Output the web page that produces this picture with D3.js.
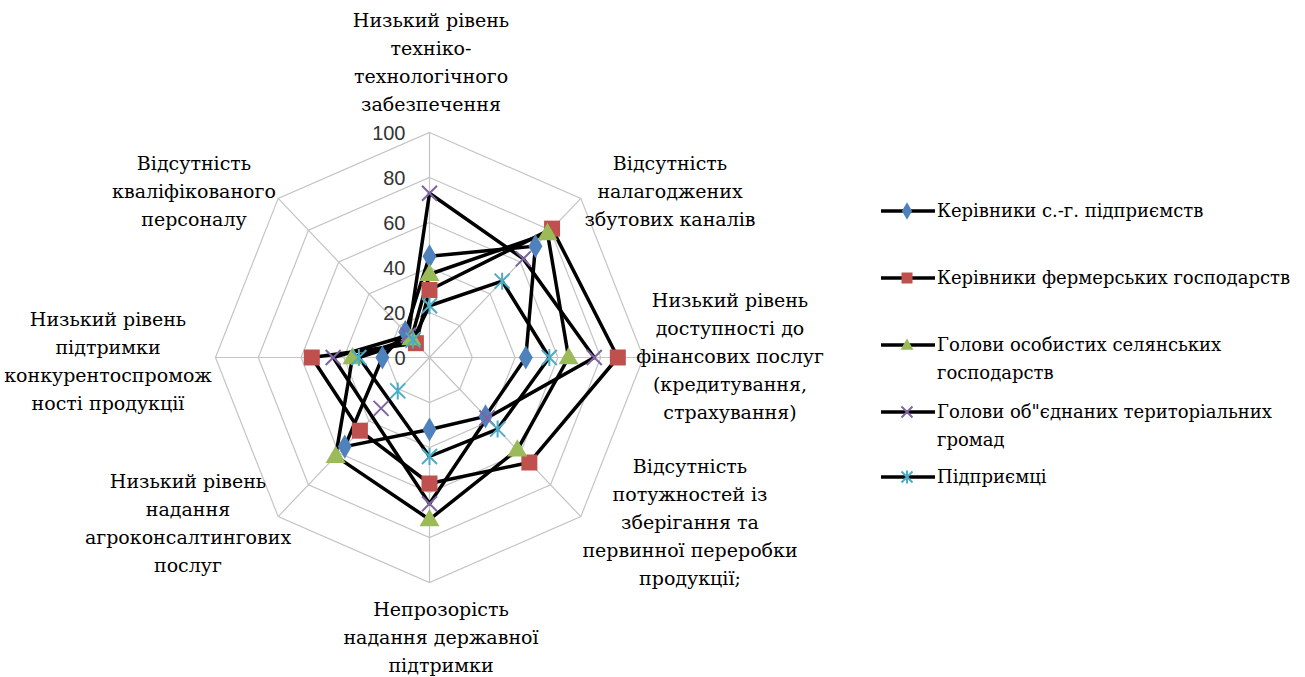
<!DOCTYPE html>
<html>
<head>
<meta charset="utf-8">
<script src="https://cdn.jsdelivr.net/npm/d3@7"></script>
<style>
  body { margin: 0; background: #fff; }
</style>
</head>
<body>
<div id="chart"></div>
<script>
/* axis labels, clockwise from the top */
var axes = [
    "Низький рівень\nтехніко-\nтехнологічного\nзабезпечення",
    "Відсутність\nналагоджених\nзбутових каналів",
    "Низький рівень\nдоступності до\nфінансових послуг\n(кредитування,\nстрахування)",
    "Відсутність\nпотужностей із\nзберігання та\nпервинної переробки\nпродукції;",
    "Непрозорість\nнадання державної\nпідтримки",
    "Низький рівень\nнадання\nагроконсалтингових\nпослуг",
    "Низький рівень\nпідтримки\nконкурентоспромож\nності продукції",
    "Відсутність\nкваліфікованого\nперсоналу"
];

var seriesNames = [
    "Керівники с.-г. підприємств",
    "Керівники фермерських господарств",
    "Голови особистих селянських\nгосподарств",
    "Голови об\"єднаних територіальних\nгромад",
    "Підприємці"
];

var agroHeads    = [45, 70, 45, 37, 32, 56, 22, 16];
var farmHeads    = [30, 81, 88, 66, 56, 46, 55, 9];
var householdHds = [37, 78, 65, 58, 72, 62, 36, 12];
var communityHds = [73, 62, 77, 38, 65, 32, 45, 14];
var entrepreneurs = [23, 48, 56, 45, 44, 21, 33, 11];

/* the black line of these series skips the 6th axis in the original */
var lineSkips = [[], [], [], [5], [5]];

var tickValues = [0, 20, 40, 60, 80, 100];

var allSeries = [agroHeads, farmHeads, householdHds, communityHds, entrepreneurs];
var colors = ["#4F81BD", "#C0504D", "#9BBB59", "#8064A2", "#4BACC6"];
var shapes = ["diamond", "square", "triangle", "x", "star"];

var serif = "DejaVu Serif";
var sans = "Liberation Sans";

var width = 1305, height = 677;
var cx = 429.5, cy = 357.5;
var rx = 214, ry = 225;   /* the picture is slightly squeezed horizontally */

var r = d3.scaleLinear().domain([0, 100]).range([0, 1]);
var angle = d3.scaleLinear().domain([0, axes.length]).range([0, 2 * Math.PI]);

function pt(i, v) {
    var a = angle(i);
    return [cx + Math.sin(a) * r(v) * rx, cy - Math.cos(a) * r(v) * ry];
}

var svg = d3.select("#chart").append("svg")
    .attr("width", width).attr("height", height);

/* grid rings */
var grid = svg.append("g");
tickValues.slice(1).forEach(function(t) {
    var ring = d3.range(axes.length).map(function(i) { return pt(i, t); });
    grid.append("polygon")
        .attr("points", ring.map(function(p) { return p.join(","); }).join(" "))
        .attr("fill", "none").attr("stroke", "#c4c4c4").attr("stroke-width", 1.2);
});
axes.forEach(function(a, i) {
    var p = pt(i, 100);
    grid.append("line")
        .attr("x1", cx).attr("y1", cy).attr("x2", p[0]).attr("y2", p[1])
        .attr("stroke", "#c4c4c4").attr("stroke-width", 1.2);
});

/* series lines */
var lineGen = d3.line();
allSeries.forEach(function(vals, s) {
    var pts = [];
    vals.forEach(function(v, i) {
        if (lineSkips[s].indexOf(i) < 0) pts.push(pt(i, v));
    });
    pts.push(pts[0]);
    svg.append("path")
        .attr("d", lineGen(pts))
        .attr("fill", "none").attr("stroke", "#000").attr("stroke-width", 3.5)
        .attr("stroke-linejoin", "round");
});

function marker(g, shape, color, x, y, sz) {
    var h = sz / 2;
    if (shape === "diamond") {
        g.append("path").attr("d", d3.symbol().type(d3.symbolDiamond).size(sz * sz * 0.75)())
            .attr("transform", "translate(" + x + "," + y + ")").attr("fill", color);
    } else if (shape === "square") {
        g.append("rect").attr("x", x - h).attr("y", y - h).attr("width", sz).attr("height", sz)
            .attr("fill", color);
    } else if (shape === "triangle") {
        g.append("path").attr("d", d3.symbol().type(d3.symbolTriangle).size(sz * sz * 0.6)())
            .attr("transform", "translate(" + x + "," + (y + 1) + ")").attr("fill", color);
    } else if (shape === "x") {
        g.append("path").attr("d", "M" + (x - h) + "," + (y - h) + "L" + (x + h) + "," + (y + h) +
                "M" + (x - h) + "," + (y + h) + "L" + (x + h) + "," + (y - h))
            .attr("stroke", color).attr("stroke-width", 2);
    } else {
        g.append("path").attr("d", "M" + (x - h) + "," + (y - h) + "L" + (x + h) + "," + (y + h) +
                "M" + (x - h) + "," + (y + h) + "L" + (x + h) + "," + (y - h) +
                "M" + x + "," + (y - h - 1) + "L" + x + "," + (y + h + 1))
            .attr("stroke", color).attr("stroke-width", 2);
    }
}

var sizes = [15, 16, 17, 15, 15];
allSeries.forEach(function(vals, s) {
    var g = svg.append("g");
    vals.forEach(function(v, i) {
        var p = pt(i, v);
        marker(g, shapes[s], colors[s], p[0], p[1], sizes[s]);
    });
});

/* tick labels */
svg.append("g").selectAll("text")
    .data(tickValues).enter().append("text")
    .attr("font-family", sans).attr("font-size", 20).attr("fill", "#333")
    .attr("x", cx - 24)
    .attr("y", function(d) { return cy - r(d) * ry; })
    .attr("dy", "0.35em")
    .attr("text-anchor", "end")
    .text(function(d) { return d; });

/* axis labels: centre of each label block */
var labelPos = [[431, 62], [670, 191], [730, 356], [690, 522], [441, 637], [188, 523], [108, 361], [194, 191]];
var lineH = 28;
axes.forEach(function(a, i) {
    var lines = a.split("\n");
    var t = svg.append("text")
        .attr("font-family", serif).attr("font-size", 19).attr("fill", "#000")
        .attr("text-anchor", "middle");
    var y0 = labelPos[i][1] - (lines.length - 1) * lineH / 2;
    lines.forEach(function(l, k) {
        t.append("tspan").attr("x", labelPos[i][0]).attr("y", y0 + k * lineH)
            .attr("dy", "0.35em").text(l);
    });
});

/* legend */
var legendY = [211, 278, 345, 412, 477];
var leg = svg.append("g");
seriesNames.forEach(function(name, s) {
    var y = legendY[s];
    leg.append("line").attr("x1", 881).attr("x2", 935).attr("y1", y).attr("y2", y)
        .attr("stroke", "#000").attr("stroke-width", 3.5);
    marker(leg, shapes[s], colors[s], 907, y, 11);
    var t = leg.append("text")
        .attr("font-family", serif).attr("font-size", 18).attr("fill", "#000");
    name.split("\n").forEach(function(l, k) {
        t.append("tspan").attr("x", 937).attr("y", y + k * 28).attr("dy", "0.35em").text(l);
    });
});
</script>
</body>
</html>
